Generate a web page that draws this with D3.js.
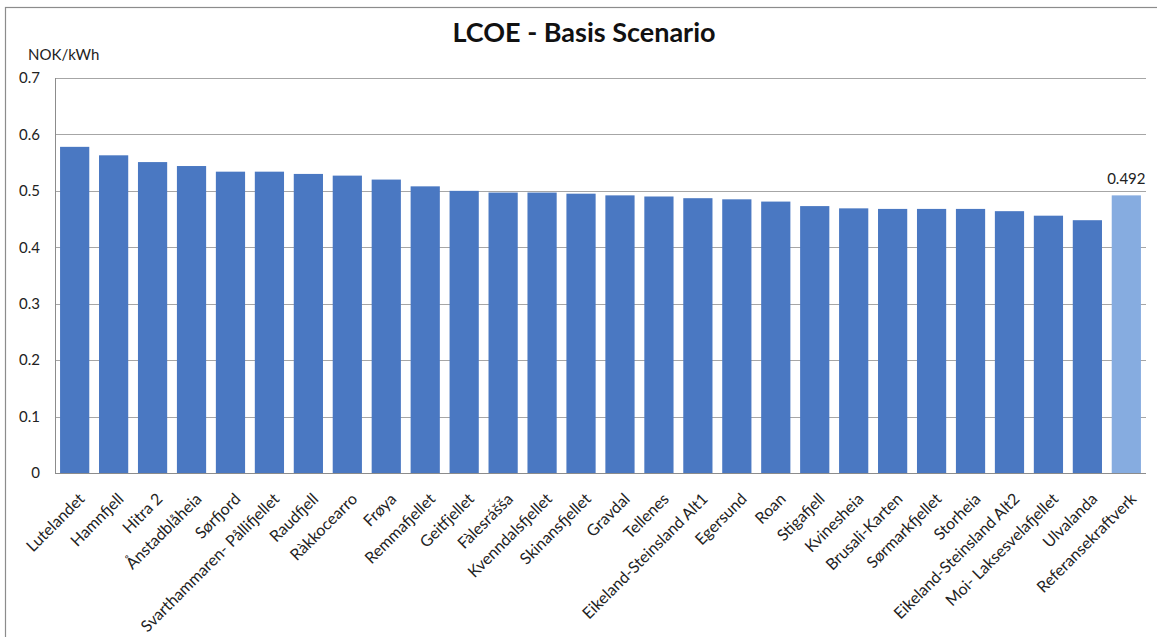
<!DOCTYPE html>
<html>
<head>
<meta charset="utf-8">
<script src="https://cdn.jsdelivr.net/npm/d3@7"></script>
<style>
  html, body { margin: 0; padding: 0; background: #fff; }
  svg { display: block; font-family: Lato, "Open Sans", sans-serif; }
</style>
</head>
<body>
<svg id="chart" width="1157" height="637"></svg>
<script>
// Wind farm sites and reference plant, levelised cost of energy (NOK/kWh)
const categories = [
  "Lutelandet", "Hamnfjell", "Hitra 2", "Ånstadblåheia", "Sørfjord",
  "Svarthammaren- Pållifjellet", "Raudfjell", "Ràkkocearro", "Frøya",
  "Remmafjellet", "Geitfjellet", "Fàlesrášša", "Kvenndalsfjellet",
  "Skinansfjellet", "Gravdal", "Tellenes", "Eikeland-Steinsland Alt1",
  "Egersund", "Roan", "Stigafjell", "Kvinesheia", "Brusali-Karten",
  "Sørmarkfjellet", "Storheia", "Eikeland-Steinsland Alt2",
  "Moi- Laksesvelafjellet", "Ulvalanda", "Referansekraftverk"
];
const lcoe = [
  0.578, 0.563, 0.551, 0.544, 0.534,
  0.534, 0.530, 0.527, 0.520,
  0.508, 0.500, 0.497, 0.497,
  0.495, 0.492, 0.490, 0.487,
  0.485, 0.481, 0.473, 0.469, 0.468,
  0.468, 0.468, 0.464,
  0.456, 0.448, 0.492
];
const yTicks = [0, 0.1, 0.2, 0.3, 0.4, 0.5, 0.6, 0.7];
const referenceName = "Referansekraftverk";

const svg = d3.select("#chart");
const margin = { left: 55, right: 1146, top: 78, bottom: 473 };

// outer chart frame
svg.append("rect")
  .attr("x", 5.5).attr("y", 7.5)
  .attr("width", 1160).attr("height", 640)
  .attr("fill", "none").attr("stroke", "#8c8c8c").attr("stroke-width", 1.2);

const x = d3.scaleBand()
  .domain(categories)
  .range([margin.left, margin.right])
  .paddingInner(0.25)
  .paddingOuter(0.13);

const y = d3.scaleLinear()
  .domain([0, 0.7])
  .range([margin.bottom, margin.top]);

// horizontal gridlines
svg.append("g")
  .selectAll("line")
  .data(yTicks)
  .join("line")
  .attr("x1", margin.left).attr("x2", margin.right)
  .attr("y1", d => Math.round(y(d)) + 0.5).attr("y2", d => Math.round(y(d)) + 0.5)
  .attr("stroke", d => d === 0 ? "#8c8c8c" : "#a6a6a6")
  .attr("stroke-width", 1);

// y axis line
svg.append("line")
  .attr("x1", margin.left + 0.5).attr("x2", margin.left + 0.5)
  .attr("y1", margin.top).attr("y2", margin.bottom)
  .attr("stroke", "#8c8c8c");

// y tick labels
const yAxis = d3.axisLeft(y).tickValues(yTicks).tickSize(0).tickPadding(0)
  .tickFormat(d => d === 0 ? "0" : d3.format(".1f")(d));
const gy = svg.append("g")
  .attr("transform", `translate(40,0)`)
  .call(yAxis);
gy.select(".domain").remove();
gy.selectAll("text")
  .attr("font-family", "Lato, sans-serif")
  .attr("font-size", 15)
  .attr("fill", "#222");

// bars
svg.append("g")
  .selectAll("rect")
  .data(categories.map((c, i) => ({ name: c, value: lcoe[i] })))
  .join("rect")
  .attr("x", d => x(d.name))
  .attr("width", x.bandwidth())
  .attr("y", d => y(d.value))
  .attr("height", d => y(0) - y(d.value))
  .attr("fill", d => d.name === referenceName ? "#86ace0" : "#4a78c2");

// value label for the reference plant
const refIdx = categories.indexOf(referenceName);
svg.append("text")
  .attr("x", x(referenceName) + x.bandwidth() / 2)
  .attr("y", y(lcoe[refIdx]) - 11)
  .attr("text-anchor", "middle")
  .attr("font-size", 15)
  .attr("fill", "#222")
  .text(d3.format(".3f")(lcoe[refIdx]));

// rotated category labels
svg.append("g")
  .selectAll("text")
  .data(categories)
  .join("text")
  .attr("transform", d => `translate(${x(d) + x.bandwidth() / 2 + 11},${margin.bottom + 27}) rotate(-45)`)
  .attr("text-anchor", "end")
  .attr("font-size", 16)
  .attr("fill", "#222")
  .text(d => d);

// title and unit
svg.append("text")
  .attr("x", 584).attr("y", 42)
  .attr("text-anchor", "middle")
  .attr("font-size", 27)
  .attr("font-weight", "bold")
  .attr("fill", "#111")
  .text("LCOE - Basis Scenario");

svg.append("text")
  .attr("x", 28).attr("y", 60)
  .attr("font-size", 15)
  .attr("fill", "#222")
  .text("NOK/kWh");
</script>
</body>
</html>
